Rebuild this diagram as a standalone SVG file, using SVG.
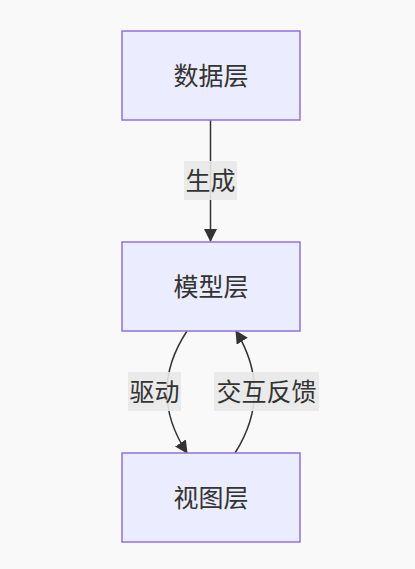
<svg xmlns="http://www.w3.org/2000/svg" width="415" height="569" viewBox="0 0 415 569">
<style>
.node rect{fill:#ECECFF;stroke:#9370DB;stroke-width:1.5}
text{font-family:"Noto Sans CJK SC","Liberation Sans",sans-serif;font-size:25px;fill:#333;text-anchor:middle;dominant-baseline:central}
.edge{fill:none;stroke:#333;stroke-width:1.5}
.lbl{fill:#e8e8e8;opacity:0.9}
</style>
<defs>
<marker id="arr" markerUnits="userSpaceOnUse" viewBox="0 0 13 13" refX="12" refY="6.5" markerWidth="13" markerHeight="13" orient="auto">
<path d="M0,0 L13,6.5 L0,13 z" fill="#333"/>
</marker>
</defs>
<rect width="415" height="569" fill="#f9f9f9"/>
<g id="connectors">
<path class="edge" d="M210.5,120 L210.5,241" marker-end="url(#arr)"/>
<path class="edge" d="M187,331 C160,372 160,412 187,453" marker-end="url(#arr)"/>
<path class="edge" d="M235,453 C261,412 261,372 236,331" marker-end="url(#arr)"/>
<rect class="lbl" x="184" y="161" width="53" height="39"/>
<text x="210.5" y="179">生成</text>
<rect class="lbl" x="128" y="372" width="53" height="39"/>
<text x="154.5" y="390">驱动</text>
<rect class="lbl" x="214" y="372" width="105" height="39"/>
<text x="266.5" y="390">交互反馈</text>
</g>
<g id="data" class="node">
<rect x="122" y="31" width="178" height="89"/>
<text x="211" y="74">数据层</text>
</g>
<g id="model" class="node">
<rect x="122" y="242" width="178" height="89"/>
<text x="211" y="285">模型层</text>
</g>
<g id="view" class="node">
<rect x="122" y="453" width="178" height="89"/>
<text x="211" y="496">视图层</text>
</g>
</svg>
